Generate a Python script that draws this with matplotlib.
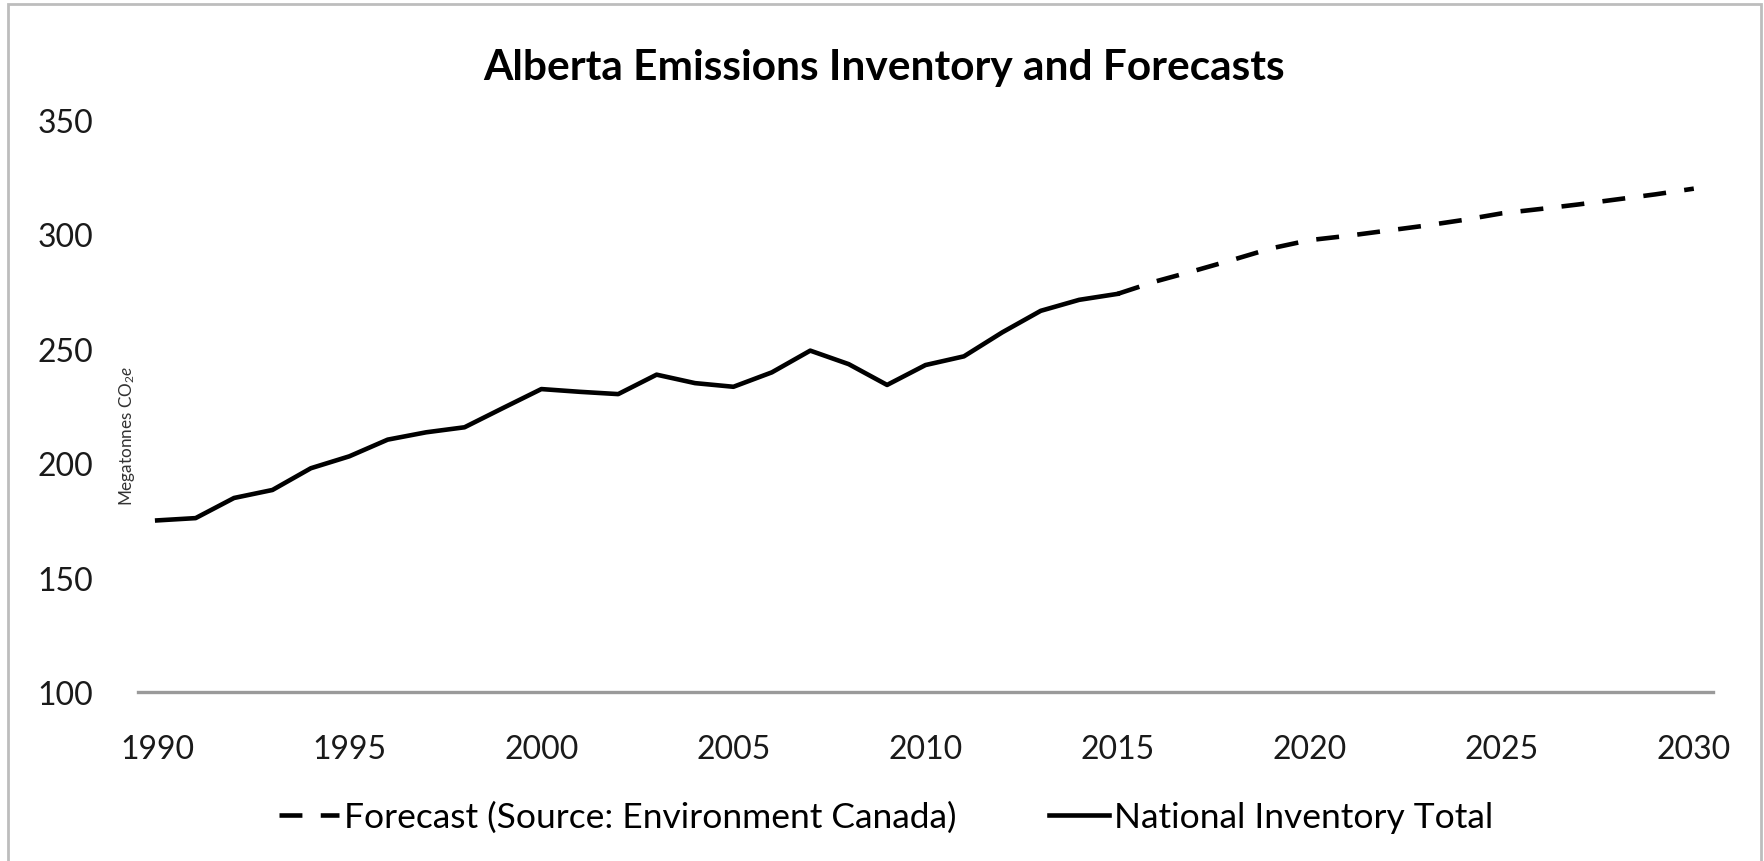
import matplotlib.pyplot as plt
from matplotlib.patches import Rectangle

# national inventory, 1990-2015 (Mt CO2e)
inv_years = list(range(1990, 2016))
inv_vals = [175, 176, 184.8, 188.3, 197.8, 203, 210.3, 213.5, 215.7, 224.1,
            232.4, 231.2, 230.2, 238.7, 235, 233.4, 239.7, 249.2, 243.3, 234.2,
            242.9, 246.7, 257.2, 266.6, 271.4, 274]

# forecast, 2015-2030
fc_years = list(range(2015, 2031))
fc_vals = [274, 279.5, 284.1, 288.9, 293.9, 297.5, 299.4, 301.6, 303.8, 306.3,
           309.2, 311.1, 313.1, 315.3, 317.5, 320]

x_ticks = list(range(1990, 2031, 5))
y_ticks = [100, 150, 200, 250, 300, 350]

plt.rcParams['font.family'] = ['Lato', 'DejaVu Sans']
plt.rcParams['mathtext.fontset'] = 'custom'
plt.rcParams['mathtext.rm'] = 'Lato'
plt.rcParams['mathtext.it'] = 'Lato:italic'

W, H = 1765, 862
fig = plt.figure(figsize=(W / 100, H / 100), dpi=100)
ax = fig.add_axes([138 / W, 1 - 693 / H, (1713 - 138) / W, (693 - 121) / H])

ax.plot(fc_years, fc_vals, color='black', lw=3.3, dashes=(5, 4),
        label='Forecast (Source: Environment Canada)')
ax.plot(inv_years, inv_vals, color='black', lw=3.3,
        label='National Inventory Total')

ax.set_xlim(1989.5, 2030.5)
ax.set_ylim(100, 350)
ax.set_xticks(x_ticks)
ax.set_yticks(y_ticks)
ax.tick_params(axis='both', length=0, labelsize=23, colors='#1a1a1a')
ax.tick_params(axis='x', pad=30)
ax.tick_params(axis='y', pad=32)
for s in ['top', 'right', 'left']:
    ax.spines[s].set_visible(False)
ax.spines['bottom'].set_color('#9a9a9a')
ax.spines['bottom'].set_linewidth(2.4)

fig.text(884 / W, 1 - 68 / H, 'Alberta Emissions Inventory and Forecasts',
         ha='center', va='center', fontsize=30.5, fontweight='bold')
fig.text(127 / W, 1 - 436 / H, 'Megatonnes CO$_2$$\\mathit{e}$', rotation=90,
         ha='center', va='center', fontsize=12.3, color='#333333')

fig.legend(loc='center', bbox_to_anchor=(0.502, 1 - 818 / H), ncol=2,
           frameon=False, fontsize=25.5, handlelength=1.7, handletextpad=0.15,
           columnspacing=2.6)

fig.add_artist(Rectangle((8 / W, -0.01), (1761 - 8) / W, 1 - 5 / H + 0.01,
                         transform=fig.transFigure, fill=False,
                         edgecolor='#bdbdbd', lw=2))

fig.savefig('out.png', dpi=100)
